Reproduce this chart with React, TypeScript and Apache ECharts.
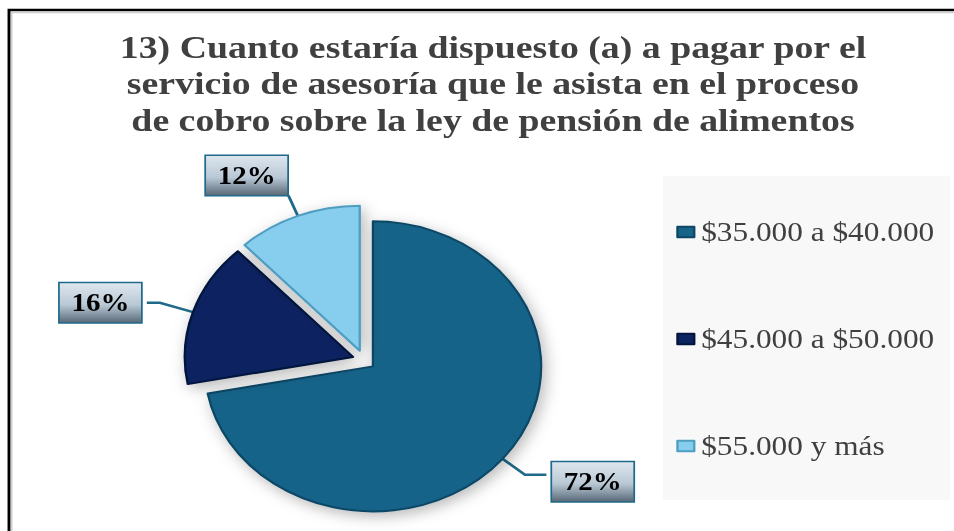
import React, { useEffect, useRef } from "react";
import * as echarts from "echarts";

const titleLines = [
  "13) Cuanto estaría dispuesto (a) a pagar por el",
  "servicio de asesoría que le asista en el proceso",
  "de cobro sobre la ley de pensión de alimentos",
];
const categories = ["$35.000 a $40.000", "$45.000 a $50.000", "$55.000 y más"];
const values = [72, 16, 12];
const colors = ["#176489", "#0a2361", "#86cdee"];
const borderColors = ["#0e4766", "#05143d", "#4f9ec2"];

// label leader-line layout per slice (chart units)
const leaderLines = [
  { length: 25, length2: 18.5, dx: 0, dy: 7 },
  { length: 30, length2: 11.3, dx: 0, dy: 0 },
  { length: 22, length2: 0, dx: 4, dy: -20 },
];

const STRETCH = 1.16;
const W = 954;
const H = 531;
const CW = Math.ceil(W / STRETCH);

export default function App() {
  const ref = useRef<HTMLDivElement>(null);
  useEffect(() => {
    if (!ref.current) return;
    const chart = echarts.init(ref.current, undefined, { renderer: "svg" });
    const labelBg = new echarts.graphic.LinearGradient(0, 0, 0, 1, [
      { offset: 0, color: "#dde6ee" },
      { offset: 0.55, color: "#b9c8d5" },
      { offset: 1, color: "#5c6b79" },
    ]);
    chart.setOption({
      animation: false,
      backgroundColor: "#ffffff",
      title: {
        text: titleLines.join("\n"),
        left: 420,
        top: 24,
        textAlign: "center",
        textStyle: {
          fontFamily: "Liberation Serif",
          fontWeight: "bold",
          fontSize: 32.6,
          lineHeight: 36.4,
          color: "#404040",
        },
      },
      graphic: [
        {
          type: "rect",
          shape: { x: 7.8, y: 10, width: CW + 20, height: H + 20 },
          style: { fill: "none", stroke: "#000", lineWidth: 2.6 },
          silent: true,
        },
        {
          type: "rect",
          shape: { x: 10, y: 12.5, width: CW + 20, height: H + 20 },
          style: { fill: "none", stroke: "#cfcfcf", lineWidth: 1.6 },
          silent: true,
        },
        {
          type: "rect",
          shape: { x: 571.6, y: 176, width: 247.5, height: 324 },
          style: { fill: "#f8f8f8" },
          silent: true,
          z: -1,
        },
      ],
      legend: {
        orient: "vertical",
        left: 578,
        top: 212,
        icon: "rect",
        itemWidth: 14.5,
        itemHeight: 10.5,
        itemGap: 77,
        data: categories,
        textStyle: {
          fontFamily: "Liberation Serif",
          fontSize: 27,
          lineHeight: 30,
          color: "#404040",
          padding: [0, 0, 0, 1],
        },
      },
      series: [
        {
          type: "pie",
          center: [313.8, 360],
          radius: 145,
          startAngle: 90,
          clockwise: true,
          selectedMode: "multiple",
          selectedOffset: 10,
          avoidLabelOverlap: false,
          itemStyle: {
            borderWidth: 2,
            shadowBlur: 14,
            shadowColor: "rgba(0,0,0,0.28)",
            shadowOffsetX: 3,
            shadowOffsetY: 4,
          },
          label: {
            show: true,
            position: "outside",
            formatter: (p: any) => Math.round(p.percent) + "%",
            fontFamily: "Liberation Serif",
            fontWeight: "bold",
            fontSize: 25,
            lineHeight: 26,
            color: "#000",
            backgroundColor: labelBg,
            borderColor: "#1f6a8a",
            borderWidth: 1.5,
            padding: [7, 10, 6, 10],
          },
          labelLine: {
            show: true,
            lineStyle: { color: "#1f6a8a", width: 2.5 },
          },
          labelLayout: (params: any) => {
            const l = leaderLines[params.dataIndex];
            return l ? { dx: l.dx, dy: l.dy } : {};
          },
          emphasis: { disabled: true },
          data: categories.map((name, i) => ({
            name,
            value: values[i],
            selected: true,
            itemStyle: { color: colors[i], borderColor: borderColors[i] },
            labelLine: {
              length: leaderLines[i].length,
              length2: leaderLines[i].length2,
            },
          })),
        },
      ],
    });
    return () => chart.dispose();
  }, []);
  return (
    <div
      style={{
        position: "fixed",
        left: 0,
        top: 0,
        width: W,
        height: H,
        overflow: "hidden",
        background: "#fff",
      }}
    >
      <div
        ref={ref}
        style={{
          width: CW,
          height: H,
          transform: `scaleX(${STRETCH})`,
          transformOrigin: "0 0",
        }}
      />
    </div>
  );
}
